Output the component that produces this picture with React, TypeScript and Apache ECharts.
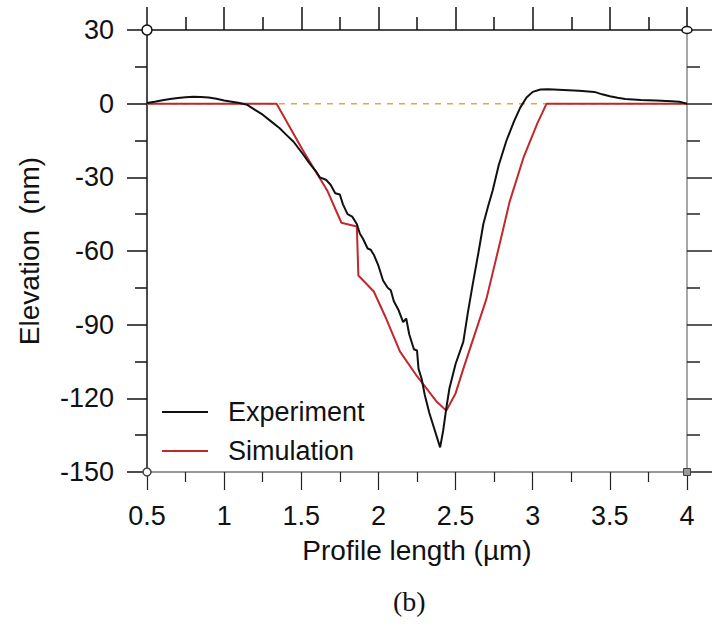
import React, { useEffect, useRef } from "react";
import * as echarts from "echarts";

const expX = [0.5, 0.55, 0.6, 0.65, 0.7, 0.75, 0.8, 0.85, 0.9, 0.95, 1.0, 1.05, 1.1, 1.15, 1.2, 1.25, 1.3, 1.36, 1.4, 1.45, 1.51, 1.55, 1.6, 1.62, 1.66, 1.69, 1.72, 1.75, 1.77, 1.8, 1.83, 1.86, 1.88, 1.9, 1.93, 1.95, 1.97, 2.0, 2.03, 2.06, 2.08, 2.1, 2.13, 2.16, 2.18, 2.2, 2.23, 2.25, 2.26, 2.28, 2.3, 2.33, 2.36, 2.38, 2.4, 2.42, 2.44, 2.46, 2.5, 2.55, 2.58, 2.61, 2.65, 2.68, 2.71, 2.74, 2.78, 2.83, 2.88, 2.92, 2.96, 3.0, 3.05, 3.1, 3.2, 3.3, 3.4, 3.45, 3.5, 3.55, 3.6, 3.7, 3.8, 3.9, 3.95, 4.0];
const expY = [0.3, 0.8, 1.4, 1.9, 2.3, 2.6, 2.8, 2.7, 2.5, 2.0, 1.3, 0.8, 0.3, -0.5, -2.5, -4.5, -7, -10, -12.5, -15.5, -20.5, -24, -28, -30, -31, -33, -36.5, -37, -41, -45, -46, -49, -53, -55, -59, -59.5, -61.5, -66, -72, -75, -76, -80.5, -84, -89, -87.5, -94, -100, -100.5, -108, -112, -118.5, -126, -132, -136, -140, -133, -124, -116, -106, -97, -85, -74, -60, -49, -42, -35.5, -25, -15, -7, -1.5, 2.5, 4.8, 5.8, 5.9, 5.6, 5.3, 4.8, 3.8, 3.0, 2.4, 1.9, 1.5, 1.3, 1.0, 0.8, 0];

const simX = [0.5, 1.34, 1.51, 1.67, 1.76, 1.86, 1.87, 1.97, 2.05, 2.14, 2.25, 2.38, 2.44, 2.5, 2.55, 2.7, 2.79, 2.85, 2.94, 3.03, 3.09, 4.0];
const simY = [0, 0, -19, -35.6, -48.5, -50, -70, -76.5, -87.5, -101, -111, -121.5, -125, -118, -108, -79.5, -56, -40, -22, -8, 0, 0];

const zeroX = [0.5, 4.0];
const zeroY = [0, 0];

const xTicks = { min: 0.5, max: 4, interval: 0.5 };
const yTicks = { min: -150, max: 30, interval: 30 };

const FONT = "'Liberation Sans', Arial, Helvetica, sans-serif";

const zip = (xs: number[], ys: number[]) => xs.map((x, i) => [x, ys[i]]);

export default function App() {
  const ref = useRef<HTMLDivElement>(null);
  useEffect(() => {
    if (!ref.current) return;
    const chart = echarts.init(ref.current, undefined, { renderer: "svg" });
    const axisCommon = {
      type: "value" as const,
      axisLine: { show: true, onZero: false, lineStyle: { color: "#111", width: 1.5 } },
      splitLine: { show: false },
      minorTick: { show: true, splitNumber: 2, length: 10, lineStyle: { color: "#222", width: 1.2 } },
    };
    chart.setOption({
      animation: false,
      backgroundColor: "#fff",
      grid: { left: 147, right: 36, top: 30, bottom: 156, containLabel: false },
      legend: {
        data: ["Experiment", "Simulation"],
        orient: "vertical",
        left: 157,
        top: 392,
        itemWidth: 46,
        itemHeight: 2,
        itemGap: 9,
        icon: "rect",
        textStyle: { fontFamily: FONT, fontSize: 27, color: "#111", lineHeight: 30, padding: [0, 0, 0, 15] },
      },
      xAxis: [
        {
          ...axisCommon,
          position: "bottom",
          min: xTicks.min,
          max: xTicks.max,
          interval: xTicks.interval,
          axisLine: { show: true, onZero: false, lineStyle: { color: "#777", width: 1.5 } },
          axisTick: { show: true, length: 18, lineStyle: { color: "#222", width: 1.2 } },
          axisLabel: { fontFamily: FONT, fontSize: 27, color: "#111", margin: 30 },
          name: "Profile length (µm)",
          nameLocation: "middle",
          nameGap: 64,
          nameTextStyle: { fontFamily: FONT, fontSize: 28, color: "#111" },
        },
        {
          ...axisCommon,
          position: "top",
          min: xTicks.min,
          max: xTicks.max,
          interval: xTicks.interval,
          axisTick: { show: true, length: 23, lineStyle: { color: "#111", width: 1.5 } },
          minorTick: { show: true, splitNumber: 2, length: 13, lineStyle: { color: "#111", width: 1.5 } },
          axisLabel: { show: false },
        },
      ],
      yAxis: [
        {
          ...axisCommon,
          position: "left",
          min: yTicks.min,
          max: yTicks.max,
          interval: yTicks.interval,
          axisTick: { show: true, length: 20, lineStyle: { color: "#111", width: 1.5 } },
          minorTick: { show: true, splitNumber: 2, length: 12, lineStyle: { color: "#111", width: 1.5 } },
          axisLabel: { fontFamily: FONT, fontSize: 27, color: "#111", margin: 33 },
          name: "Elevation  (nm)",
          nameLocation: "middle",
          nameGap: 104,
          nameRotate: 90,
          nameTextStyle: { fontFamily: FONT, fontSize: 28, color: "#111" },
        },
        {
          ...axisCommon,
          position: "right",
          min: yTicks.min,
          max: yTicks.max,
          interval: yTicks.interval,
          axisLine: { show: true, onZero: false, lineStyle: { color: "#888", width: 1.5 } },
          axisTick: { show: true, length: 25, lineStyle: { color: "#222", width: 1.5 } },
          minorTick: { show: true, splitNumber: 2, length: 13, lineStyle: { color: "#222", width: 1.5 } },
          axisLabel: { show: false },
        },
      ],
      series: [
        {
          name: "zero",
          type: "line",
          data: zip(zeroX, zeroY),
          showSymbol: false,
          symbol: "none",
          lineStyle: { color: "#dcae3c", width: 1.5, type: [6, 6] },
          z: 1,
        },
        {
          name: "Simulation",
          type: "line",
          data: zip(simX, simY),
          showSymbol: false,
          symbol: "none",
          color: "#c0282c",
          lineStyle: { color: "#c0282c", width: 2 },
          z: 2,
        },
        {
          name: "Experiment",
          type: "line",
          data: zip(expX, expY),
          showSymbol: false,
          symbol: "none",
          color: "#111",
          lineStyle: { color: "#111", width: 2 },
          z: 3,
        },
      ],
    });
    const tl = chart.convertToPixel({ xAxisIndex: 0, yAxisIndex: 0 }, [xTicks.min, yTicks.max]);
    const br = chart.convertToPixel({ xAxisIndex: 0, yAxisIndex: 0 }, [xTicks.max, yTicks.min]);
    chart.setOption({
      graphic: [
        { type: "circle", shape: { cx: tl[0], cy: tl[1], r: 5 }, style: { fill: "#fff", stroke: "#111", lineWidth: 1.5 }, z: 100 },
        { type: "circle", shape: { cx: tl[0], cy: br[1], r: 4 }, style: { fill: "#fff", stroke: "#444", lineWidth: 1.5 }, z: 100 },
        { type: "ellipse", shape: { cx: br[0], cy: tl[1], rx: 5, ry: 3.5 }, style: { fill: "#fff", stroke: "#111", lineWidth: 1.5 }, z: 100 },
        { type: "rect", shape: { x: br[0] - 3.5, y: br[1] - 3.5, width: 7, height: 7 }, style: { fill: "#999", stroke: "#444", lineWidth: 1 }, z: 100 },
        {
          type: "text",
          left: 393,
          top: 587,
          style: { text: "(b)", fontFamily: "'Liberation Serif', 'Times New Roman', serif", fontSize: 28, fill: "#111" },
        },
      ],
    });
    return () => chart.dispose();
  }, []);
  return <div ref={ref} style={{ position: "fixed", left: 0, top: 0, width: 723, height: 628 }} />;
}
